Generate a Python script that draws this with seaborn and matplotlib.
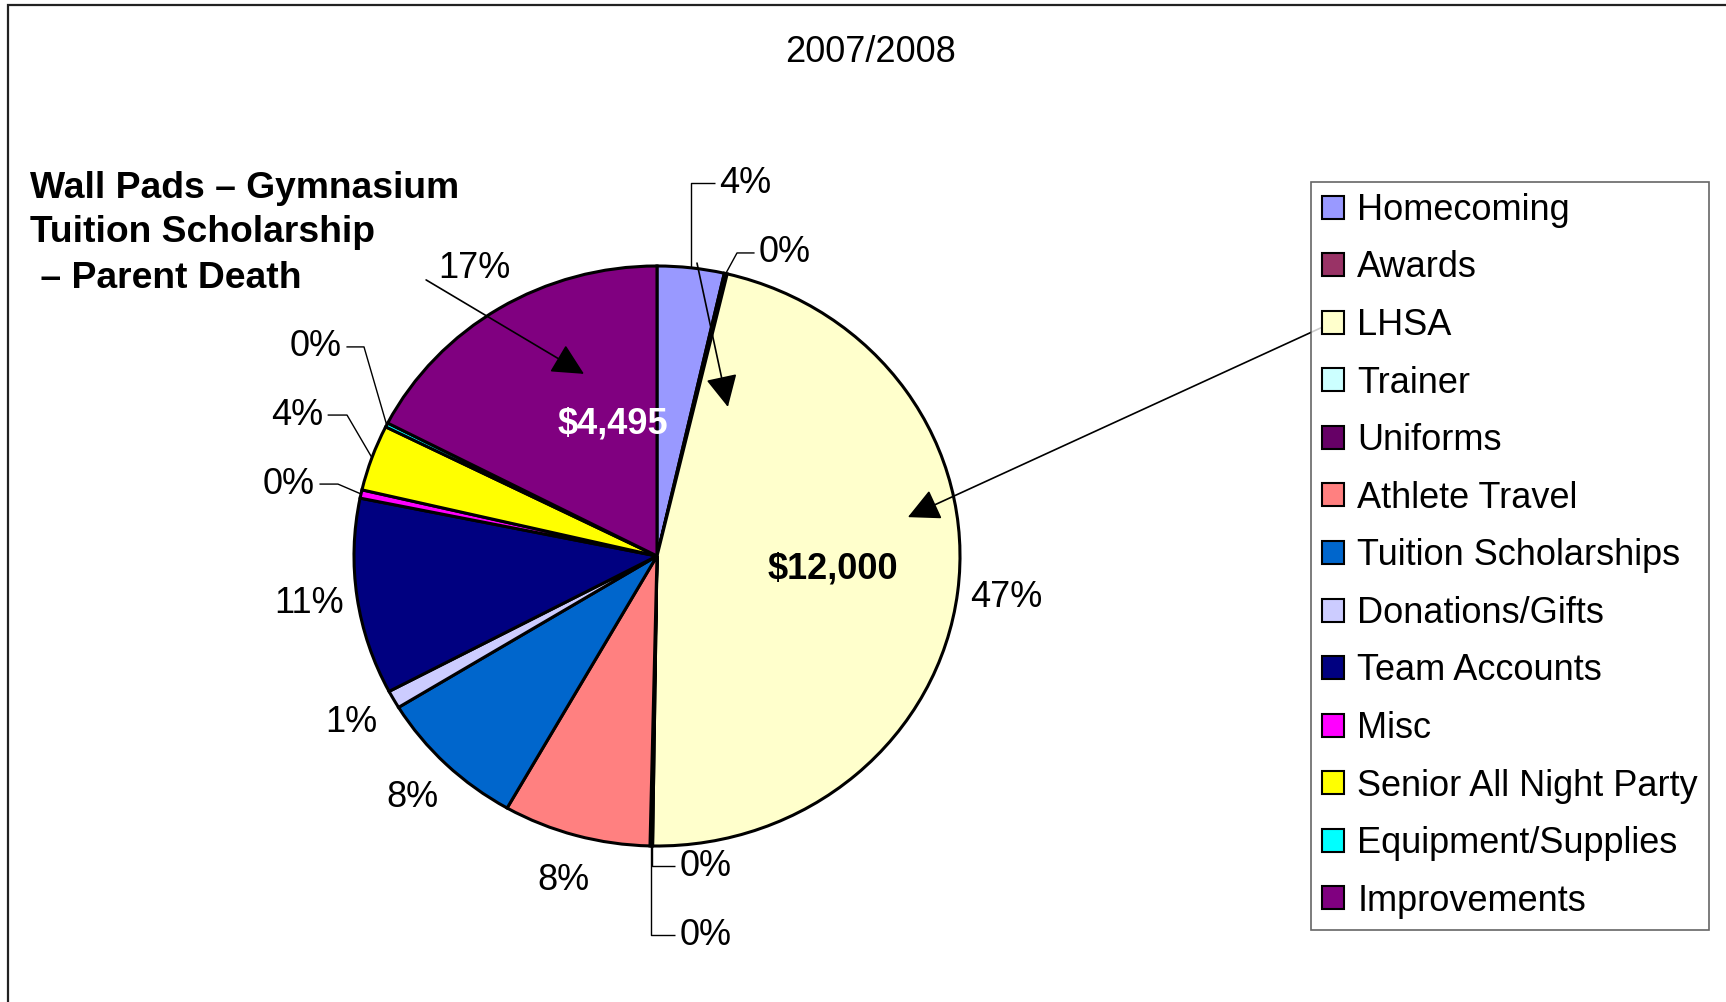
import numpy as np
import seaborn as sns
import matplotlib.pyplot as plt
from matplotlib.patches import Rectangle

# -----------------------------
# Data
# -----------------------------

categories = [
    'Homecoming', 'Awards', 'LHSA', 'Trainer', 'Uniforms',
    'Athlete Travel', 'Tuition Scholarships', 'Donations/Gifts',
    'Team Accounts', 'Misc', 'Senior All Night Party',
    'Equipment/Supplies', 'Improvements'
]
amounts = [920, 40, 12000, 15, 20, 2030, 2070, 260, 2820, 120, 950, 60, 4495]
colors = [
    '#9999FF', '#993366', '#FFFFCC', '#CCFFFF', '#660066',
    '#FF8080', '#0066CC', '#CCCCFF', '#000080', '#FF00FF',
    '#FFFF00', '#00FFFF', '#800080'
]
title = '2007/2008'
note_lines = ['Wall Pads \u2013 Gymnasium', 'Tuition Scholarship', ' \u2013 Parent Death']
value_labels = {'LHSA': '$12,000', 'Improvements': '$4,495'}

# -----------------------------
# Style
# -----------------------------

sns.set_theme(style='white')
plt.rcParams['font.family'] = ['Liberation Sans', 'DejaVu Sans']
plt.rcParams['text.color'] = 'black'
FS = 26

W, H = 1726, 1002
fig = plt.figure(figsize=(W / 100, H / 100), dpi=100)
fig.patch.set_facecolor('white')

# pie centre and radii in pixels
cx, cy, rx, ry = 657, 556, 303, 290
ax = fig.add_axes([0, 0, 1, 1])

wedges, _ = ax.pie(
    amounts,
    colors=colors,
    startangle=90,
    counterclock=False,
    wedgeprops=dict(edgecolor='black', linewidth=2.2),
)
ax.set_aspect('auto')
ax.set_xlim(-cx / rx, (W - cx) / rx)
ax.set_ylim(-(H - cy) / ry, cy / ry)
ax.axis('off')

# -----------------------------
# Percent labels
# -----------------------------

total = sum(amounts)
cum = np.cumsum(amounts)
mid = (cum - np.array(amounts) / 2) / total * 2 * np.pi  # clockwise from top

leaders = {
    'Homecoming': dict(text=(0.205, 1.286), elbow=(None, 1.286), ha='left'),
    'Awards': dict(text=(0.337, 1.045), elbow=(0.264, 1.045), ha='left'),
    'Trainer': dict(text=(0.075, -1.07), elbow=(None, -1.07), ha='left'),
    'Uniforms': dict(text=(0.075, -1.307), elbow=(None, -1.307), ha='left'),
    'Misc': dict(text=(-1.129, 0.248), elbow=(-1.053, 0.248), ha='right'),
    'Senior All Night Party': dict(text=(-1.102, 0.486), elbow=(-1.023, 0.486), ha='right'),
    'Equipment/Supplies': dict(text=(-1.040, 0.721), elbow=(-0.967, 0.721), ha='right'),
}

for name, amt, ang in zip(categories, amounts, mid):
    pct = f'{amt / total * 100:.0f}%'
    px, py = np.sin(ang), np.cos(ang)
    if name in leaders:
        lay = leaders[name]
        tx, ty = lay['text']
        ex, ey = lay['elbow']
        if ex is None:
            ex = px
        gap = -0.015 if lay['ha'] == 'left' else 0.015
        ax.plot([px, ex, tx + gap], [py, ey, ty], color='black', lw=1, solid_capstyle='butt')
        ax.text(tx, ty, pct, ha=lay['ha'], va='center', fontsize=FS)
    else:
        r = 1.16
        ax.text(px * r, py * r, pct, ha='center', va='center', fontsize=FS)

# value labels inside the big slices
ax.text(0.581, -0.045, value_labels['LHSA'], ha='center', va='center',
        fontsize=FS, fontweight='bold', color='black')
ax.text(-0.145, 0.455, value_labels['Improvements'], ha='center', va='center',
        fontsize=FS, fontweight='bold', color='white')

# -----------------------------
# Arrows
# -----------------------------

arrow = dict(arrowstyle='-|>,head_length=0.9,head_width=0.45', color='black',
             lw=1.2, mutation_scale=22, shrinkA=0, shrinkB=0)
ax.annotate('', xy=(-0.241, 0.628), xytext=(-0.762, 0.952), arrowprops=arrow)
ax.annotate('', xy=(0.234, 0.514), xytext=(0.132, 1.010), arrowprops=arrow)
ax.annotate('', xy=(0.828, 0.134), xytext=(2.198, 0.790), arrowprops=arrow)

# -----------------------------
# Texts
# -----------------------------

fig.text(870 / W, 1 - 53 / H, title, ha='center', va='center', fontsize=FS)
for i, line in enumerate(note_lines):
    fig.text(30 / W, 1 - (188 + 45 * i) / H, line, ha='left', va='center',
             fontsize=26.8, fontweight='bold')

# -----------------------------
# Legend
# -----------------------------

leg = ax.legend(
    wedges, categories,
    loc='upper left',
    bbox_to_anchor=(1311 / W, 1 - 182 / H),
    bbox_transform=fig.transFigure,
    borderaxespad=0,
    fontsize=FS,
    frameon=True,
    fancybox=False,
    shadow=False,
    handlelength=0.6,
    handleheight=0.6,
    handletextpad=0.38,
    labelspacing=0.625,
    borderpad=0.3,
)
leg.get_frame().set_edgecolor('#404040')
leg.get_frame().set_linewidth(1.2)
for h in leg.legend_handles:
    h.set_linewidth(1.5)

# outer chart border
fig.patches.append(Rectangle((8 / W, -0.05), 1.1, 1 - 5 / H + 0.05,
                             transform=fig.transFigure, fill=False,
                             edgecolor='#222222', lw=1.6))

plt.savefig('out.png', dpi=100)
plt.close()
